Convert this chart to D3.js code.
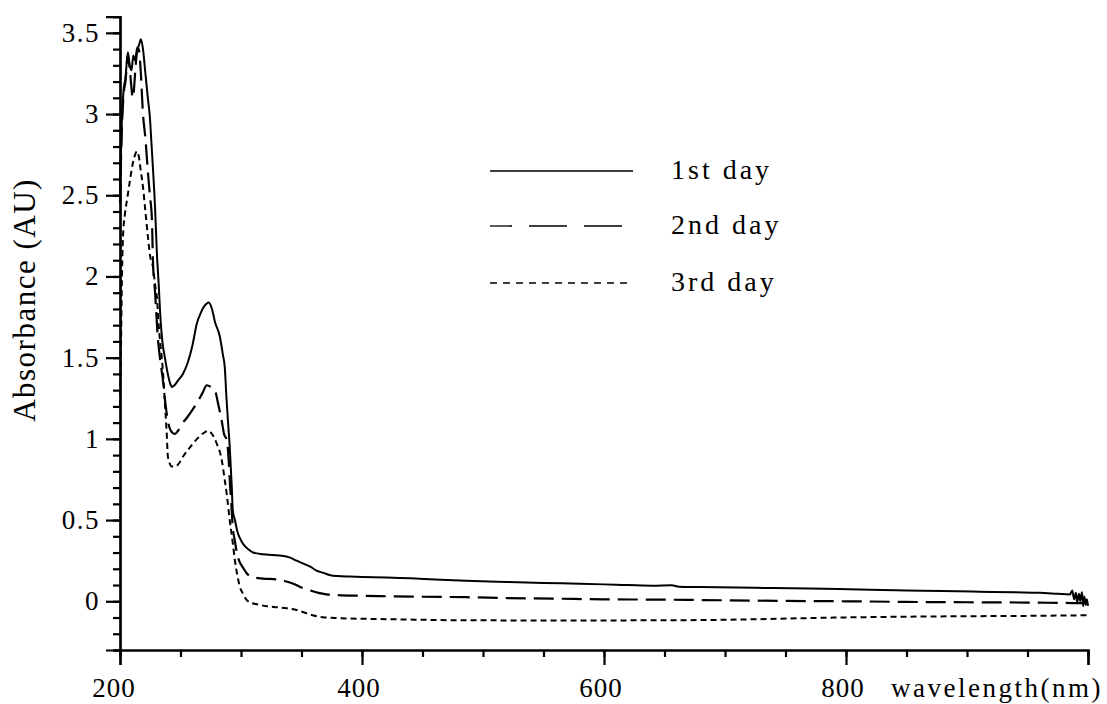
<!DOCTYPE html>
<html>
<head>
<meta charset="utf-8">
<script src="https://cdn.jsdelivr.net/npm/d3@7/dist/d3.min.js"></script>
<style>
  html, body { margin: 0; padding: 0; background: #fff; }
  svg { display: block; }
  text { font-family: "Liberation Serif", "DejaVu Serif", serif; fill: #000; }
</style>
</head>
<body>
<svg id="chart" width="1107" height="704"></svg>
<script>
// UV-Vis absorption spectra, [wavelength (nm), absorbance (AU)]
const day1 = [
  [200, 2.55], [201.5, 2.95], [203, 3.15], [204.5, 3.22], [206.5, 3.38], [208, 3.30],
  [209.5, 3.27], [211, 3.36], [212.5, 3.33], [214, 3.40], [215.5, 3.42], [217.3, 3.46],
  [219, 3.40], [221, 3.25], [223, 3.10], [224.7, 2.98], [226, 2.82], [227.2, 2.67],
  [229, 2.42], [230.5, 2.14], [232, 1.95], [233, 1.80], [235, 1.60], [237.1, 1.50],
  [239.5, 1.40], [241.5, 1.34], [243, 1.32], [245, 1.33], [248, 1.36], [252, 1.40],
  [256, 1.47], [260, 1.58], [263.5, 1.71], [267, 1.78], [270, 1.82], [273.4, 1.84],
  [276, 1.80], [278.5, 1.72], [282.5, 1.63], [285, 1.52], [286.6, 1.44], [288, 1.25],
  [289.5, 1.08], [290.7, 0.95], [292.4, 0.70], [293.2, 0.56], [295, 0.50], [297, 0.43],
  [299, 0.39], [302, 0.35], [306, 0.32], [310, 0.30], [318, 0.29], [326, 0.285],
  [334, 0.28], [340, 0.27], [346, 0.25], [352, 0.23], [358, 0.21], [362, 0.19],
  [368, 0.175], [374, 0.16], [380, 0.155], [390, 0.152], [400, 0.15], [420, 0.147],
  [440, 0.142], [460, 0.134], [486, 0.126], [520, 0.119], [550, 0.113], [580, 0.108],
  [610, 0.102], [640, 0.096], [656, 0.099], [662, 0.090], [680, 0.088], [710, 0.085],
  [740, 0.081], [770, 0.078], [794, 0.075], [820, 0.071], [850, 0.067], [880, 0.063],
  [910, 0.059], [940, 0.055], [960, 0.052], [975, 0.046], [985, 0.042], [987, 0.066],
  [988.5, 0.012], [990, 0.052], [991, -0.008], [992.5, 0.046], [993.5, 0.002],
  [995, 0.056], [996, -0.030], [997, 0.030], [998, -0.022], [999, 0.012], [1000, -0.028]
];

const day2 = [
  [200, 2.45], [201.5, 2.90], [203, 3.12], [204.5, 3.20], [206.5, 3.36], [208, 3.28],
  [210.7, 3.10], [212.5, 3.25], [214, 3.38], [215.5, 3.40], [217, 3.28], [219, 3.00],
  [221, 2.85], [223, 2.65], [224.7, 2.50], [226.4, 2.35], [227.2, 2.10], [229, 1.90],
  [231.3, 1.62], [233, 1.50], [235.5, 1.36], [237.5, 1.22], [239.6, 1.11], [242, 1.05],
  [245.4, 1.03], [248, 1.05], [251, 1.09], [255.3, 1.13], [260, 1.18], [263.5, 1.22],
  [268, 1.28], [271.8, 1.33], [275, 1.32], [278.4, 1.30], [281, 1.22], [284.1, 1.11],
  [286, 1.03], [288.2, 0.99], [290, 0.85], [290.7, 0.745], [292, 0.60], [293.2, 0.455],
  [295, 0.37], [296.5, 0.30], [299, 0.24], [301.4, 0.21], [305, 0.17], [309.7, 0.148],
  [318, 0.14], [329.5, 0.135], [336, 0.125], [342.7, 0.11], [350, 0.085], [356.7, 0.068],
  [364, 0.052], [370.7, 0.043], [380, 0.038], [400, 0.034], [420, 0.031], [450, 0.028],
  [486, 0.025], [520, 0.020], [560, 0.016], [600, 0.012], [650, 0.010], [700, 0.006],
  [750, 0.002], [800, 0.000], [850, -0.004], [900, -0.006], [950, -0.008], [1000, -0.012]
];

const day3 = [
  [200, 1.20], [200.8, 1.55], [201.5, 1.95], [202.5, 2.25], [204, 2.38], [206, 2.48],
  [208, 2.58], [210.7, 2.70], [212.5, 2.75], [214, 2.77], [215.5, 2.74], [217, 2.66],
  [219, 2.55], [221, 2.40], [223, 2.25], [225, 2.12], [227.2, 2.06], [229, 1.95],
  [230.5, 1.87], [232, 1.70], [233, 1.61], [235, 1.46], [236, 1.36], [237.1, 1.22],
  [238.5, 1.05], [239.6, 0.89], [241, 0.85], [242.9, 0.83], [245, 0.83], [247.8, 0.84],
  [252, 0.89], [256, 0.93], [260.2, 0.97], [265, 1.01], [270, 1.04], [273, 1.05],
  [276, 1.03], [280, 0.97], [284.1, 0.87], [286.6, 0.745], [288.2, 0.66], [290.7, 0.50],
  [293.2, 0.36], [295, 0.25], [297.3, 0.148], [299, 0.09], [301.4, 0.05], [304, 0.015],
  [307.2, -0.006], [314, -0.020], [321.2, -0.030], [330, -0.037], [337.7, -0.043],
  [345, -0.052], [354.2, -0.074], [360, -0.088], [367.4, -0.098], [380, -0.104],
  [420, -0.110], [486, -0.117], [560, -0.118], [656, -0.117], [700, -0.114],
  [794, -0.100], [850, -0.095], [900, -0.092], [950, -0.090], [1000, -0.086]
];

const seriesNames = ["1st day", "2nd day", "3rd day"];
const xMajorTicks = [200, 400, 600, 800, 1000];
const xTickLabels = ["200", "400", "600", "800", ""];
const yMajorTicks = [0, 0.5, 1, 1.5, 2, 2.5, 3, 3.5];
const yTickLabels = ["0", "0.5", "1", "1.5", "2", "2.5", "3", "3.5"];

const svg = d3.select("#chart");

const x = d3.scaleLinear().domain([200, 1000]).range([120, 1088]);
const y = d3.scaleLinear().domain([-0.3, 3.6]).range([650, 16.6]);

// line styles for the three days
const styles = [
  { dash: null,  width: 2.0, legendDash: null,    legendWidth: 1.3, legendOffset: 0 },
  { dash: "20,8", width: 2.2, legendDash: "38,17", legendWidth: 1.3, legendOffset: 16 },
  { dash: "6,4",  width: 2.0, legendDash: "7,6",   legendWidth: 1.3, legendOffset: 0 }
];

const line = d3.line()
  .x(d => x(d[0]))
  .y(d => y(d[1]))
  .curve(d3.curveMonotoneX);

const plot = svg.append("g");
[day1, day2, day3].forEach((data, i) => {
  plot.append("path")
    .datum(data)
    .attr("fill", "none")
    .attr("stroke", "#000")
    .attr("stroke-width", styles[i].width)
    .attr("stroke-dasharray", styles[i].dash)
    .attr("stroke-linejoin", "round")
    .attr("d", line);
});

// x axis: major ticks every 200 nm, minor every 50 nm
const xAxisG = svg.append("g").attr("transform", `translate(0,${y(-0.3)})`);
xAxisG.call(d3.axisBottom(x).tickValues(d3.range(200, 1001, 50)).tickSize(7).tickFormat(""));
xAxisG.append("g").call(d3.axisBottom(x).tickValues(xMajorTicks).tickSize(15).tickFormat(""));
xAxisG.selectAll(".domain").attr("stroke", "#000").attr("stroke-width", 2.2);
xAxisG.selectAll(".tick line").attr("stroke", "#000").attr("stroke-width", 2.2);

xMajorTicks.forEach((v, i) => {
  if (!xTickLabels[i]) return;
  svg.append("text")
    .attr("x", x(v) + (i === 0 ? -6 : -3))
    .attr("y", 697)
    .attr("text-anchor", "middle")
    .attr("font-size", 27)
    .attr("letter-spacing", 1)
    .text(xTickLabels[i]);
});

svg.append("text")
  .attr("x", 891)
  .attr("y", 697)
  .attr("font-size", 27)
  .attr("letter-spacing", 2.5)
  .text("wavelength(nm)");

// y axis: major ticks every 0.5, minor every 0.1
const yAxisG = svg.append("g").attr("transform", `translate(${x(200)},0)`);
yAxisG.call(d3.axisLeft(y).tickValues(d3.range(-3, 37).map(v => v / 10)).tickSize(7).tickFormat(""));
yAxisG.append("g").call(d3.axisLeft(y).tickValues(yMajorTicks).tickSize(14).tickFormat(""));
yAxisG.selectAll(".domain").attr("stroke", "#000").attr("stroke-width", 2.2);
yAxisG.selectAll(".tick line").attr("stroke", "#000").attr("stroke-width", 2.2);

yMajorTicks.forEach((v, i) => {
  svg.append("text")
    .attr("x", 100)
    .attr("y", y(v))
    .attr("dy", "0.33em")
    .attr("text-anchor", "end")
    .attr("font-size", 27)
    .attr("letter-spacing", 1.5)
    .text(yTickLabels[i]);
});

svg.append("text")
  .attr("transform", "translate(35,300) rotate(-90)")
  .attr("text-anchor", "middle")
  .attr("font-size", 31)
  .attr("letter-spacing", 1.5)
  .text("Absorbance (AU)");

// legend
const legendRows = [171, 226, 283];
seriesNames.forEach((name, i) => {
  svg.append("line")
    .attr("x1", 490).attr("x2", 633)
    .attr("y1", legendRows[i]).attr("y2", legendRows[i])
    .attr("stroke", "#000")
    .attr("stroke-width", styles[i].legendWidth)
    .attr("stroke-dasharray", styles[i].legendDash)
    .attr("stroke-dashoffset", styles[i].legendOffset);
  svg.append("text")
    .attr("x", 671)
    .attr("y", legendRows[i] + 8)
    .attr("font-size", 28)
    .attr("letter-spacing", 3)
    .text(name);
});
</script>
</body>
</html>
